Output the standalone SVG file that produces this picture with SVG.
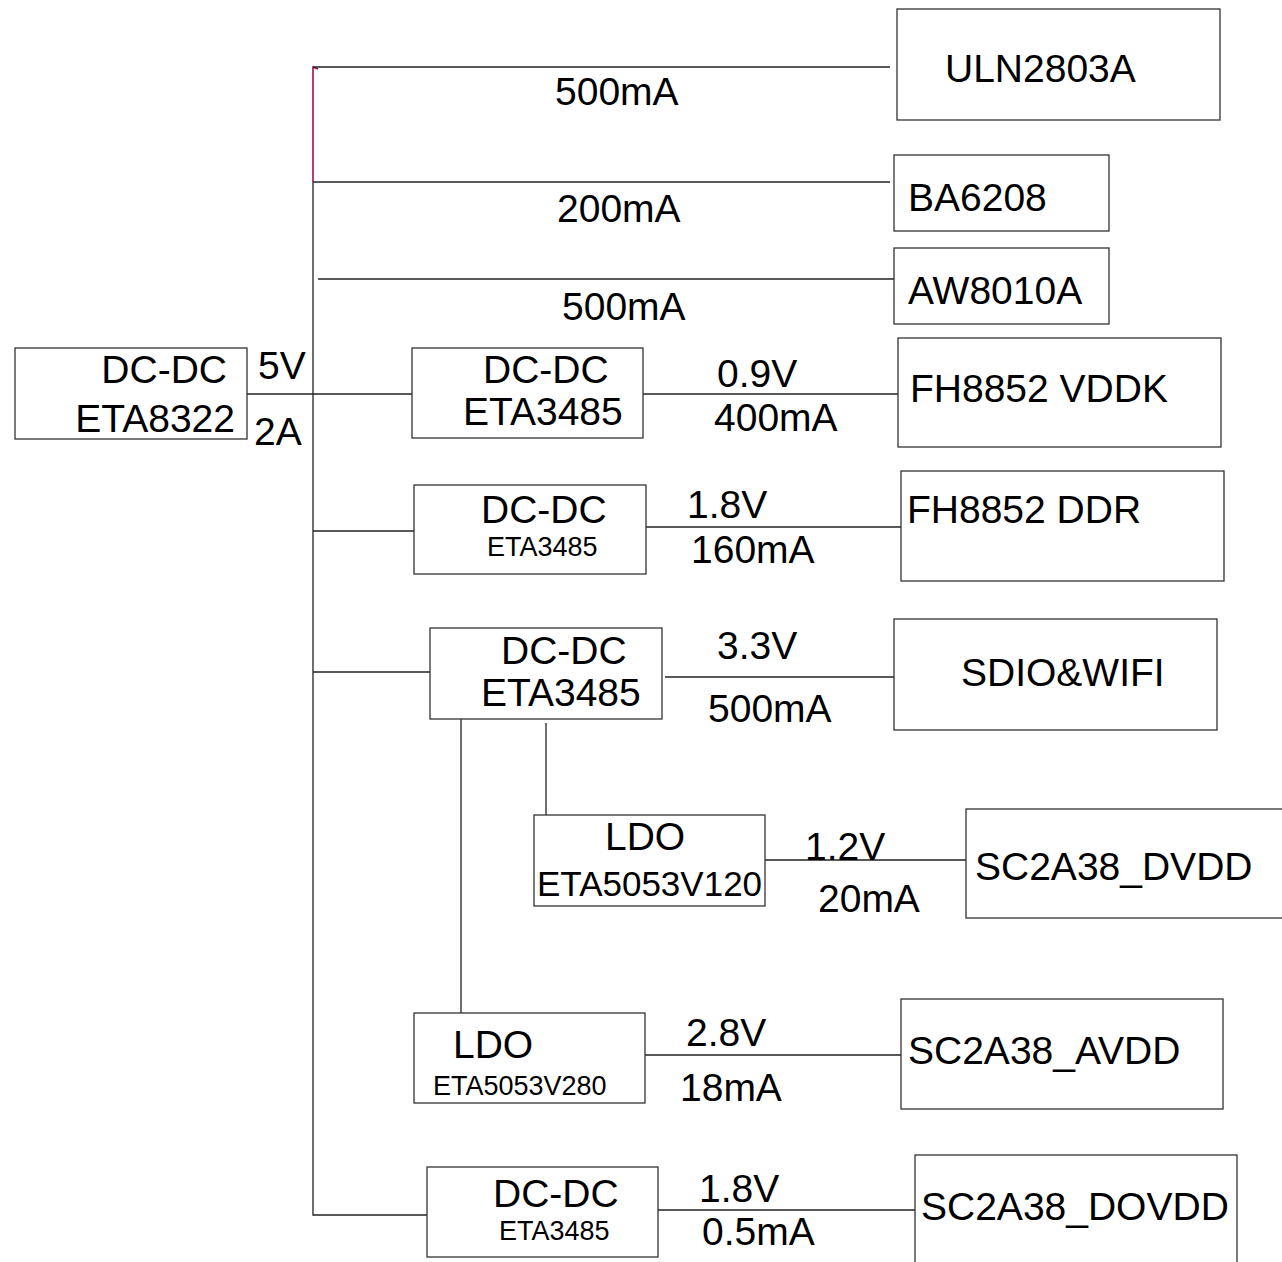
<svg xmlns="http://www.w3.org/2000/svg" width="1282" height="1262" viewBox="0 0 1282 1262">
<style>
.box{fill:#fff;stroke:#333;stroke-width:1.3}
.w{stroke:#222;stroke-width:1.3;fill:none}
.m{stroke:#990040;stroke-width:1.5;fill:none}
text{font-family:"Liberation Sans",Arial,sans-serif;fill:#000}
.L{font-size:39px}
.S{font-size:27px}
</style>
<rect width="1282" height="1262" fill="#fff"/>
<g id="connectors">
<path class="m" d="M313,182 V67 L318,69"/>
<path class="w" d="M313,182 V1215 H427"/>
<path class="w" d="M313,67 H890"/>
<path class="w" d="M313,182 H890"/>
<path class="w" d="M318,279 H894"/>
<path class="w" d="M247,394 H412"/>
<path class="w" d="M643,394 H898"/>
<path class="w" d="M313,531 H414"/>
<path class="w" d="M646,527 H901"/>
<path class="w" d="M313,672 H430"/>
<path class="w" d="M665,677 H894"/>
<path class="w" d="M461,719 V1013"/>
<path class="w" d="M546,723 V815"/>
<path class="w" d="M765,860 H966"/>
<path class="w" d="M645,1055 H901"/>
<path class="w" d="M658,1210 H915"/>
<text class="L" x="555" y="105">500mA</text>
<text class="L" x="557" y="222">200mA</text>
<text class="L" x="562" y="320">500mA</text>
<text class="L" x="258" y="379">5V</text>
<text class="L" x="254" y="445">2A</text>
<text class="L" x="717" y="387">0.9V</text>
<text class="L" x="714" y="431">400mA</text>
<text class="L" x="687" y="518">1.8V</text>
<text class="L" x="691" y="563">160mA</text>
<text class="L" x="717" y="659">3.3V</text>
<text class="L" x="708" y="722">500mA</text>
<text class="L" x="805" y="860">1.2V</text>
<text class="L" x="818" y="912">20mA</text>
<text class="L" x="686" y="1046">2.8V</text>
<text class="L" x="680" y="1101">18mA</text>
<text class="L" x="699" y="1202">1.8V</text>
<text class="L" x="702" y="1245">0.5mA</text>
</g>
<g id="eta8322">
<rect class="box" x="15" y="348" width="232" height="91"/>
<text class="L" x="227" y="383" text-anchor="end">DC-DC</text>
<text class="L" x="235" y="432" text-anchor="end">ETA8322</text>
</g>
<g id="uln2803a">
<rect class="box" x="897" y="9" width="323" height="111"/>
<text class="L" x="945" y="82">ULN2803A</text>
</g>
<g id="ba6208">
<rect class="box" x="894" y="155" width="215" height="76"/>
<text class="L" x="908" y="211">BA6208</text>
</g>
<g id="aw8010a">
<rect class="box" x="894" y="248" width="215" height="76"/>
<text class="L" x="908" y="304">AW8010A</text>
</g>
<g id="dcdc1">
<rect class="box" x="412" y="348" width="231" height="90"/>
<text class="L" x="483" y="383">DC-DC</text>
<text class="L" x="463" y="425">ETA3485</text>
</g>
<g id="vddk">
<rect class="box" x="898" y="338" width="323" height="109"/>
<text class="L" x="910" y="402">FH8852 VDDK</text>
</g>
<g id="dcdc2">
<rect class="box" x="414" y="485" width="232" height="89"/>
<text class="L" x="481" y="523">DC-DC</text>
<text class="S" x="487" y="556">ETA3485</text>
</g>
<g id="ddr">
<rect class="box" x="901" y="471" width="323" height="110"/>
<text class="L" x="907" y="523">FH8852 DDR</text>
</g>
<g id="dcdc3">
<rect class="box" x="430" y="628" width="232" height="91"/>
<text class="L" x="501" y="664">DC-DC</text>
<text class="L" x="481" y="706">ETA3485</text>
</g>
<g id="sdio">
<rect class="box" x="894" y="619" width="323" height="111"/>
<text class="L" x="961" y="686">SDIO&amp;WIFI</text>
</g>
<g id="ldo1">
<rect class="box" x="534" y="815" width="231" height="91"/>
<text class="L" x="605" y="850">LDO</text>
<text x="537" y="896" font-size="35">ETA5053V120</text>
</g>
<g id="dvdd">
<rect class="box" x="966" y="809" width="330" height="109"/>
<text class="L" x="975" y="880">SC2A38_DVDD</text>
</g>
<g id="ldo2">
<rect class="box" x="414" y="1013" width="231" height="90"/>
<text class="L" x="453" y="1058">LDO</text>
<text class="S" x="433" y="1095">ETA5053V280</text>
</g>
<g id="avdd">
<rect class="box" x="901" y="999" width="322" height="110"/>
<text class="L" x="908" y="1064">SC2A38_AVDD</text>
</g>
<g id="dcdc4">
<rect class="box" x="427" y="1167" width="231" height="90"/>
<text class="L" x="493" y="1207">DC-DC</text>
<text class="S" x="499" y="1240">ETA3485</text>
</g>
<g id="dovdd">
<rect class="box" x="915" y="1155" width="322" height="120"/>
<text class="L" x="921" y="1220">SC2A38_DOVDD</text>
</g>
</svg>
